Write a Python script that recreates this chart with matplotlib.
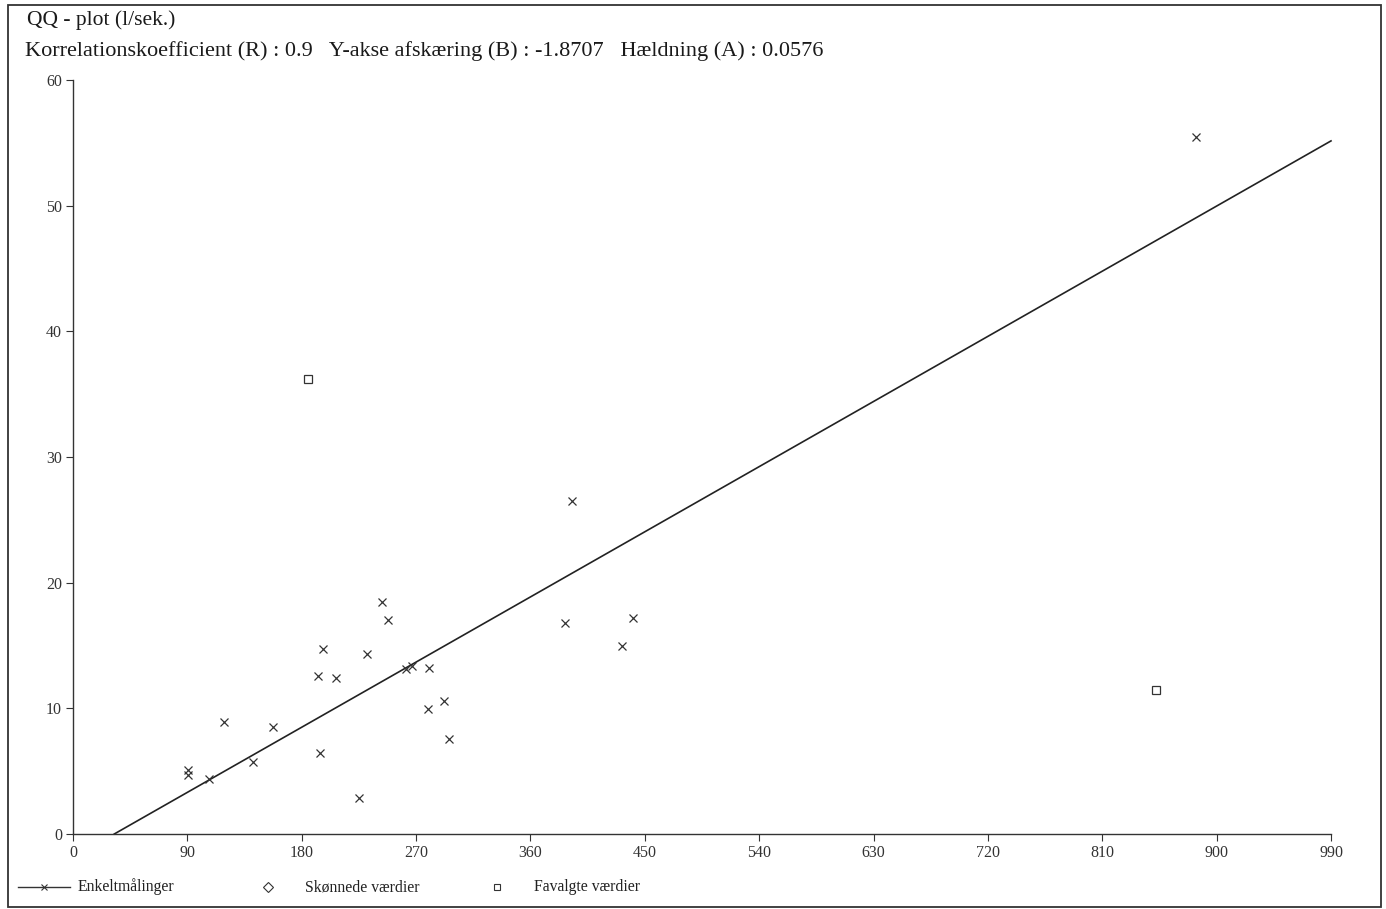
import matplotlib
matplotlib.use("Agg")
import matplotlib.pyplot as plt
import numpy as np
from matplotlib.patches import Rectangle
from matplotlib.lines import Line2D

# Enkeltmålinger (kryds)
x_maal = [90.5, 90.5, 107, 119, 142, 157, 193, 197, 194, 207, 225, 231,
          243, 248, 262, 267, 279, 280, 292, 296, 387, 393, 432, 441, 884]
y_maal = [5.1, 4.7, 4.4, 8.9, 5.7, 8.5, 12.6, 14.7, 6.45, 12.4, 2.9, 14.3,
          18.5, 17.0, 13.1, 13.4, 9.95, 13.2, 10.6, 7.55, 16.8, 26.5, 14.95, 17.2, 55.5]

# Favalgte værdier (firkanter)
x_valgt = [185, 852]
y_valgt = [36.2, 11.45]

# regressionslinje
R = 0.9
B = -1.8707
A = 0.0576

x_ticks = list(range(0, 991, 90))
y_ticks = list(range(0, 61, 10))

W, H = 1386, 909
fig = plt.figure(figsize=(W / 100, H / 100), dpi=100)
plt.rcParams['font.family'] = ['Liberation Serif', 'DejaVu Serif']

# Ramme om hele figuren
fig.patches.append(Rectangle((8 / W, 1 - 907 / H), (1381 - 8) / W, (907 - 5) / H,
                             transform=fig.transFigure, fill=False,
                             edgecolor='#333333', linewidth=1.3))

# Overskrifter
fig.text(27 / W, 1 - 20 / H, 'QQ - plot (l/sek.)', fontsize=15.5,
         va='center', ha='left', color='#1a1a1a')
fig.text(25 / W, 1 - 51 / H,
         f'Korrelationskoefficient (R) : {R}   Y-akse afskæring (B) : {B}   '
         f'Hældning (A) : {A}',
         fontsize=16, va='center', ha='left', color='#1a1a1a')

ax = fig.add_axes([73 / W, 1 - 834 / H, (1331 - 73) / W, (834 - 80) / H])
ax.set_xlim(0, 990)
ax.set_ylim(0, 60)
for s in ['top', 'right']:
    ax.spines[s].set_visible(False)
for s in ['left', 'bottom']:
    ax.spines[s].set_color('#333333')
    ax.spines[s].set_linewidth(1.0)
ax.set_xticks(x_ticks)
ax.set_yticks(y_ticks)
ax.tick_params(direction='out', length=5, width=0.8, colors='#333333',
               labelsize=11.5, labelcolor='#333333', pad=3)

# regressionslinje fra y=0 til x=990
x0 = -B / A
xl = np.array([x0, 990])
ax.plot(xl, A * xl + B, color='#222222', linewidth=1.2, clip_on=False)

ax.plot(x_maal, y_maal, linestyle='none', marker='x', markersize=6,
        markeredgewidth=0.9, color='#333333', clip_on=False)
ax.plot(x_valgt, y_valgt, linestyle='none', marker='s', markersize=6,
        markerfacecolor='none', markeredgewidth=0.9, markeredgecolor='#333333',
        clip_on=False)

# Signaturforklaring
ly = 1 - 887 / H
fig.lines.append(Line2D([18 / W, 70 / W], [ly, ly], transform=fig.transFigure,
                        color='#333333', linewidth=1.0))
fig.lines.append(Line2D([44 / W], [ly], transform=fig.transFigure, marker='x',
                        markersize=5, markeredgewidth=0.8, color='#333333'))
fig.text(78 / W, ly, 'Enkeltmålinger', fontsize=11.3, va='center', color='#222222')
fig.lines.append(Line2D([268 / W], [ly], transform=fig.transFigure, marker='D',
                        markersize=5, markerfacecolor='none', markeredgewidth=0.8,
                        markeredgecolor='#333333'))
fig.text(305 / W, ly, 'Skønnede værdier', fontsize=11.3, va='center', color='#222222')
fig.lines.append(Line2D([497 / W], [ly], transform=fig.transFigure, marker='s',
                        markersize=5, markerfacecolor='none', markeredgewidth=0.8,
                        markeredgecolor='#333333'))
fig.text(534 / W, ly, 'Favalgte værdier', fontsize=11.3, va='center', color='#222222')

fig.savefig('out.png', dpi=100)
